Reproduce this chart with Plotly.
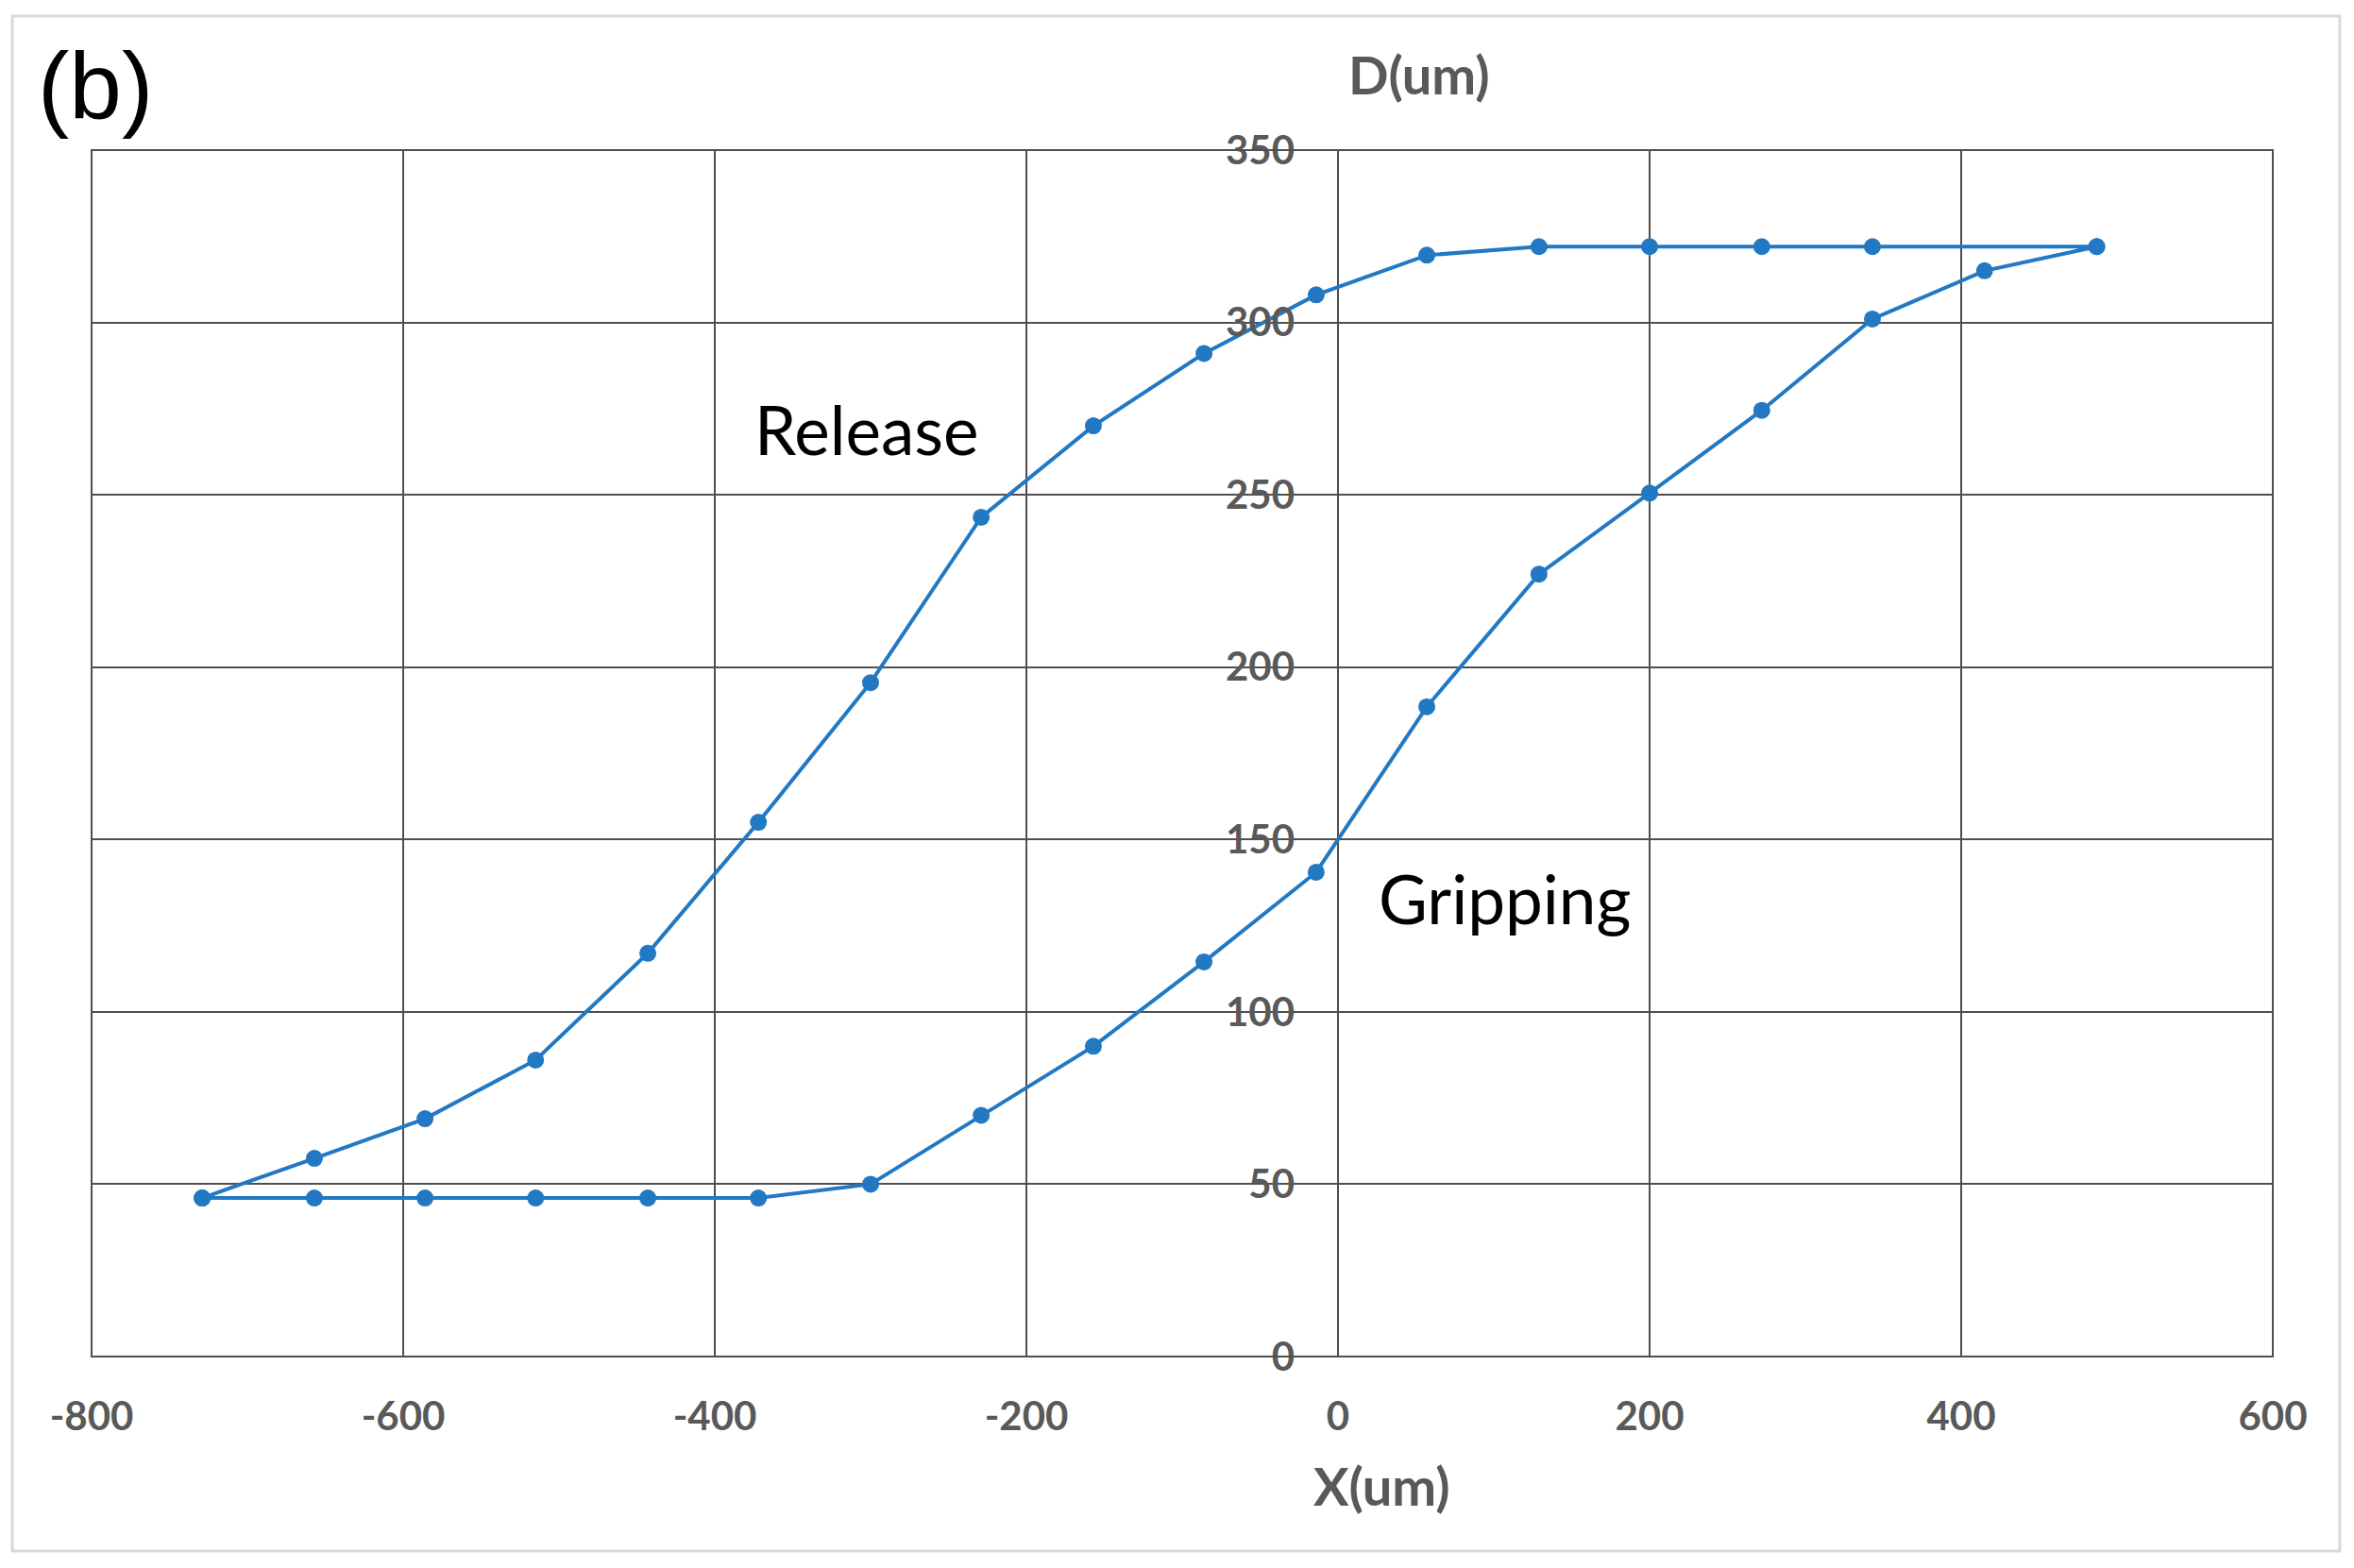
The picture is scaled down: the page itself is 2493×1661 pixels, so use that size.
import plotly.graph_objects as go

# x positions (um) and gap D (um), read off the loop: gripping = lower branch going right,
# release = upper branch going back left
x_grip = [-729, -657, -586, -515, -443, -372, -300, -229, -157, -86, -14, 57, 129, 200, 272, 343, 415, 487]
d_grip = [46, 46, 46, 46, 46, 46, 50, 70, 90, 114.5, 140.5, 188.5, 227, 250.5, 274.5, 301, 315, 322]

x_rel = [487, 343, 272, 200, 129, 57, -14, -86, -157, -229, -300, -372, -443, -515, -586, -657, -729]
d_rel = [322, 322, 322, 322, 322, 319.5, 308, 291, 270, 243.5, 195.5, 155, 117, 86, 69, 57.5, 46]

x_ticks = [-800, -600, -400, -200, 0, 200, 400, 600]
x_labels = ["-800", "-600", "-400", "-200", "0", "200", "400", "600"]
y_ticks = [0, 50, 100, 150, 200, 250, 300, 350]

BLUE = "#2278c3"
GRID = "#4f4f4f"
TICK = "#595959"

W, H = 2493, 1661
# page body has an 8px margin, so the margins are shifted by that
L, R, T, B = 89, 94, 151, 232
PX0, PX1, PY0, PY1 = 97, 2407, 159, 1437   # plot area on the page


def px(xp):
    return (xp - PX0) / (PX1 - PX0)


def py(yp):
    return (PY1 - yp) / (PY1 - PY0)


fig = go.Figure()
fig.add_trace(go.Scatter(x=x_grip + x_rel, y=d_grip + d_rel, mode="lines+markers",
                         line=dict(color=BLUE, width=4), marker=dict(color=BLUE, size=18),
                         showlegend=False))

fig.update_layout(width=W, height=H, margin=dict(l=L, r=R, t=T, b=B),
                  plot_bgcolor="white", paper_bgcolor="white",
                  font=dict(family="Lato", color=TICK))

fig.update_xaxes(range=[-800, 600], tickmode="array", tickvals=x_ticks, ticktext=x_labels,
                 showgrid=True, gridcolor=GRID, gridwidth=2, zeroline=False,
                 showline=False, ticks="", ticklabelstandoff=35,
                 tickfont=dict(family="Lato", size=42, color=TICK, weight="bold"))
fig.update_yaxes(range=[0, 350], tickmode="array", tickvals=y_ticks,
                 showgrid=True, gridcolor=GRID, gridwidth=2, zeroline=False,
                 showline=False, ticks="", anchor="free", position=800 / 1400,
                 ticklabelstandoff=46,
                 tickfont=dict(family="Lato", size=42, color=TICK, weight="bold"))

# plot frame
fig.add_shape(type="rect", xref="paper", yref="paper", x0=0, y0=0, x1=1, y1=1,
              line=dict(color=GRID, width=2))

# light outer border of the picture
fig.add_shape(type="rect", xref="paper", yref="paper", x0=px(13), x1=px(2478), y0=py(1643), y1=py(17),
              line=dict(color="#d9d9d9", width=3))

fig.add_annotation(xref="paper", yref="paper", x=px(101), y=py(91), text="(b)", showarrow=False,
                   xanchor="center", yanchor="middle",
                   font=dict(family="Liberation Sans", size=100, color="black"))
fig.add_annotation(xref="paper", yref="paper", x=px(1503), y=py(78), text="D(um)", showarrow=False,
                   xanchor="center", yanchor="middle",
                   font=dict(family="Lato", size=56, color=TICK, weight="bold"))
fig.add_annotation(xref="paper", yref="paper", x=px(1463), y=py(1573), text="X(um)", showarrow=False,
                   xanchor="center", yanchor="middle",
                   font=dict(family="Lato", size=56, color=TICK, weight="bold"))

fig.add_annotation(x=-303, y=269, text="Release", showarrow=False,
                   xanchor="center", yanchor="middle",
                   font=dict(family="Lato", size=71, color="black"))
fig.add_annotation(x=107, y=133, text="Gripping", showarrow=False,
                   xanchor="center", yanchor="middle",
                   font=dict(family="Lato", size=71, color="black"))

fig.write_html("out.html")
